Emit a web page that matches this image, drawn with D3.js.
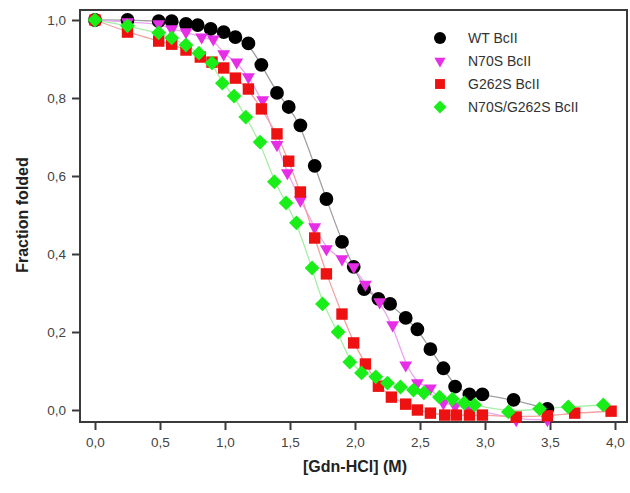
<!DOCTYPE html>
<html>
<head>
<meta charset="utf-8">
<script src="https://cdn.jsdelivr.net/npm/d3@7"></script>
<style>
  body { margin: 0; background: #fff; }
  text { font-family: "Liberation Sans", Arial, sans-serif; }
</style>
</head>
<body>
<div id="chart"></div>
<script>
// data: [Gdn-HCl] (M), fraction folded
var wtX = [0, 0.25, 0.49, 0.59, 0.70, 0.79, 0.89, 0.99, 1.08, 1.18, 1.28, 1.40, 1.49, 1.58, 1.69, 1.78, 1.90, 1.99, 2.07, 2.18, 2.27, 2.39, 2.48, 2.58, 2.68, 2.77, 2.88, 2.98, 3.22, 3.48];
var wtY = [1.0, 1.0, 0.997, 0.997, 0.99, 0.987, 0.977, 0.969, 0.956, 0.94, 0.885, 0.813, 0.777, 0.73, 0.626, 0.541, 0.431, 0.367, 0.31, 0.285, 0.272, 0.236, 0.207, 0.156, 0.107, 0.06, 0.04, 0.04, 0.026, 0.003];

var n70sX = [0, 0.25, 0.49, 0.59, 0.70, 0.82, 0.91, 0.99, 1.09, 1.18, 1.29, 1.40, 1.48, 1.58, 1.69, 1.78, 1.90, 1.99, 2.08, 2.19, 2.29, 2.39, 2.48, 2.58, 2.68, 2.77, 2.88, 3.24, 3.48];
var n70sY = [1.0, 0.995, 0.99, 0.977, 0.969, 0.956, 0.951, 0.913, 0.892, 0.854, 0.795, 0.68, 0.608, 0.538, 0.469, 0.413, 0.387, 0.367, 0.322, 0.277, 0.218, 0.115, 0.069, 0.056, 0.018, 0.01, 0.005, -0.025, -0.025];

var g262sX = [0, 0.25, 0.49, 0.59, 0.70, 0.81, 0.90, 0.99, 1.08, 1.18, 1.28, 1.40, 1.49, 1.58, 1.69, 1.78, 1.90, 1.99, 2.08, 2.18, 2.28, 2.39, 2.48, 2.58, 2.69, 2.78, 2.88, 2.98, 3.24, 3.48, 3.69, 3.97];
var g262sY = [1.0, 0.969, 0.946, 0.938, 0.923, 0.905, 0.892, 0.877, 0.851, 0.823, 0.772, 0.708, 0.638, 0.559, 0.441, 0.349, 0.246, 0.172, 0.118, 0.061, 0.033, 0.015, 0.0, -0.008, -0.013, -0.013, -0.013, -0.013, -0.018, -0.015, -0.008, -0.003];

var dblX = [0, 0.25, 0.49, 0.59, 0.70, 0.80, 0.90, 0.98, 1.07, 1.16, 1.27, 1.38, 1.47, 1.55, 1.67, 1.75, 1.87, 1.96, 2.05, 2.16, 2.25, 2.35, 2.45, 2.53, 2.65, 2.75, 2.84, 2.92, 3.18, 3.42, 3.64, 3.91];
var dblY = [1.0, 0.985, 0.967, 0.954, 0.936, 0.915, 0.89, 0.838, 0.805, 0.751, 0.687, 0.585, 0.531, 0.48, 0.364, 0.272, 0.2, 0.123, 0.095, 0.085, 0.069, 0.059, 0.051, 0.044, 0.033, 0.028, 0.018, 0.013, -0.005, 0.003, 0.008, 0.013];

var seriesNames = ["WT BcII", "N70S BcII", "G262S BcII", "N70S/G262S BcII"];
var xTicks = [0, 0.5, 1, 1.5, 2, 2.5, 3, 3.5, 4];
var yTicks = [0, 0.2, 0.4, 0.6, 0.8, 1.0];

var width = 630, height = 493;

var svg = d3.select("#chart").append("svg")
    .attr("width", width)
    .attr("height", height);

var x = d3.scaleLinear().domain([0, 4]).range([95, 615]);
var y = d3.scaleLinear().domain([0, 1]).range([410, 20]);

var comma = function(d) { return d3.format(".1f")(d).replace(".", ","); };

// frame
svg.append("rect")
    .attr("x", 80).attr("y", 10)
    .attr("width", 547).attr("height", 412)
    .attr("fill", "none")
    .attr("stroke", "#3a3a3a")
    .attr("stroke-width", 2);

var xAxis = svg.append("g")
    .attr("transform", "translate(0,422)")
    .call(d3.axisBottom(x).tickValues(xTicks).tickFormat(comma).tickSize(8).tickPadding(7));
xAxis.select(".domain").remove();

var yAxis = svg.append("g")
    .attr("transform", "translate(80,0)")
    .call(d3.axisLeft(y).tickValues(yTicks).tickFormat(comma).tickSize(8).tickPadding(6));
yAxis.select(".domain").remove();

svg.selectAll(".tick line").attr("stroke", "#3a3a3a").attr("stroke-width", 2);
svg.selectAll(".tick text")
    .attr("fill", "#444")
    .style("font-size", "13.5px")
    .style("font-family", "'Liberation Sans', Arial, sans-serif");

svg.append("text")
    .attr("x", 355).attr("y", 472)
    .attr("text-anchor", "middle")
    .style("font-size", "16px").style("font-weight", "bold")
    .attr("fill", "#222")
    .text("[Gdn-HCl] (M)");

svg.append("text")
    .attr("transform", "translate(28,215) rotate(-90)")
    .attr("text-anchor", "middle")
    .style("font-size", "16px").style("font-weight", "bold")
    .attr("fill", "#222")
    .text("Fraction folded");

var series = [
  { name: seriesNames[0], xs: wtX, ys: wtY, color: "#000000", line: "#a0a0a0", shape: d3.symbolCircle, size: 150, rot: 0 },
  { name: seriesNames[1], xs: n70sX, ys: n70sY, color: "#e62ee6", line: "#e9a6ee", shape: d3.symbolTriangle, size: 72, rot: 180 },
  { name: seriesNames[2], xs: g262sX, ys: g262sY, color: "#ee1111", line: "#f2a2a2", shape: d3.symbolSquare, size: 130, rot: 0 },
  { name: seriesNames[3], xs: dblX, ys: dblY, color: "#19ee19", line: "#a6eea6", shape: d3.symbolSquare, size: 110, rot: 45 }
];

var line = d3.line()
    .x(function(d) { return x(d[0]); })
    .y(function(d) { return y(d[1]); })
    .curve(d3.curveBasis);

series.forEach(function(s) {
  var pts = s.xs.map(function(v, i) { return [v, s.ys[i]]; });
  svg.append("path")
      .datum(pts)
      .attr("d", line)
      .attr("fill", "none")
      .attr("stroke", s.line)
      .attr("stroke-width", 1.3);
});

series.forEach(function(s) {
  var pts = s.xs.map(function(v, i) { return [v, s.ys[i]]; });
  svg.append("g").selectAll("path")
      .data(pts)
      .enter().append("path")
      .attr("d", d3.symbol().type(s.shape).size(s.size))
      .attr("transform", function(d) {
        return "translate(" + x(d[0]) + "," + y(d[1]) + ") rotate(" + s.rot + ")";
      })
      .attr("fill", s.color);
});

// legend
var legend = svg.append("g");
series.forEach(function(s, i) {
  var ly = 38 + i * 23;
  legend.append("path")
      .attr("d", d3.symbol().type(s.shape).size(s.size * 0.75))
      .attr("transform", "translate(440," + ly + ") rotate(" + s.rot + ")")
      .attr("fill", s.color);
  legend.append("text")
      .attr("x", 468).attr("y", ly + 5)
      .style("font-size", "14px")
      .attr("fill", "#333")
      .text(s.name);
});
</script>
</body>
</html>
